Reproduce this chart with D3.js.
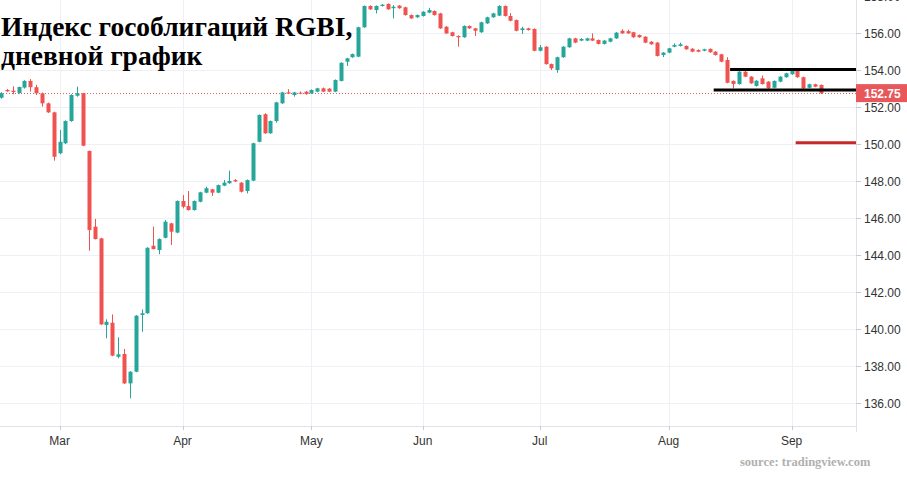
<!DOCTYPE html>
<html><head><meta charset="utf-8">
<script src="https://cdn.jsdelivr.net/npm/d3@7/dist/d3.min.js"></script>
<style>body{margin:0;background:#fff}svg{display:block}</style>
</head><body><svg id="c" width="907" height="477"></svg>
<script>
// OHLC candles (trading days, index 0..140)
const opens  = [152.50,152.92,152.88,152.76,153.05,153.41,153.07,152.74,152.20,151.71,149.50,150.04,151.24,152.61,152.74,149.62,145.53,144.90,140.22,140.34,138.50,138.65,137.06,137.69,140.76,140.85,144.50,144.27,144.93,145.71,145.21,146.92,146.65,146.43,146.88,147.37,147.55,147.37,147.75,147.88,148.05,147.91,147.46,148.02,150.12,151.61,150.58,151.24,152.20,152.79,152.65,152.77,152.83,152.74,152.83,153.01,152.99,152.83,153.41,154.45,154.69,154.72,156.31,157.46,157.24,157.46,157.57,157.34,157.48,157.39,156.97,156.85,156.92,157.10,157.19,157.06,156.34,156.04,155.84,155.77,156.38,156.25,156.04,156.52,156.85,156.94,157.46,156.92,156.70,156.16,156.25,156.22,155.04,155.26,154.32,154.00,154.69,155.23,155.71,155.59,155.59,155.71,155.62,155.41,155.53,155.71,156.12,156.10,156.04,155.89,155.80,155.53,155.48,154.81,154.94,155.26,155.30,155.30,155.15,155.08,155.04,155.14,154.99,154.85,154.54,153.41,153.24,153.91,153.64,153.14,153.55,153.37,153.04,153.37,153.61,153.77,153.96,153.61,153.04,153.23,153.19];
const highs  = [152.80,152.97,153.12,153.10,153.45,153.51,153.20,152.78,152.24,151.75,150.76,151.28,152.69,153.10,152.76,149.65,145.95,144.93,140.52,140.79,139.55,138.92,137.72,140.75,141.06,144.42,145.53,144.90,145.89,145.74,146.95,147.24,147.46,146.95,147.42,147.69,147.58,147.81,148.05,148.56,148.10,147.94,148.08,150.07,151.60,151.66,151.27,152.28,152.82,152.96,152.82,152.84,152.86,152.95,153.04,153.05,153.02,153.49,154.42,154.66,154.89,156.34,157.49,157.50,157.49,157.56,157.60,157.51,157.51,157.42,157.00,157.00,157.18,157.36,157.22,157.09,156.37,156.07,155.87,156.41,156.41,156.28,156.61,156.88,157.09,157.50,157.49,157.08,156.73,156.34,156.28,156.25,155.35,155.29,154.35,154.72,155.29,155.74,155.74,155.72,155.74,155.98,155.65,155.62,155.74,156.05,156.20,156.18,156.07,155.92,155.83,155.56,155.51,154.97,155.20,155.44,155.48,155.33,155.18,155.11,155.15,155.17,155.02,154.88,154.69,153.44,153.94,153.98,153.67,153.45,153.70,153.40,153.44,153.67,153.85,153.99,153.99,153.64,153.26,153.26,153.22];
const lows   = [152.45,152.82,152.69,152.72,153.00,152.83,152.65,152.02,151.68,149.10,149.45,150.00,151.20,152.56,149.88,144.23,144.84,140.22,139.50,138.53,138.42,137.03,136.25,137.66,139.85,140.82,144.30,144.04,144.90,144.54,145.18,146.52,146.40,146.40,146.85,147.34,147.19,147.34,147.72,147.85,147.95,147.38,147.33,147.99,150.09,150.55,150.55,151.15,152.17,152.70,152.56,152.69,152.66,152.71,152.80,152.80,152.80,152.80,153.38,154.22,154.66,154.69,156.28,157.25,157.06,157.43,157.25,156.79,157.31,156.94,156.76,156.82,156.89,157.07,156.94,156.22,155.95,155.81,155.26,155.74,156.22,155.84,156.01,156.49,156.82,156.91,156.89,156.63,156.09,155.95,156.13,155.01,155.01,154.29,154.00,153.85,154.66,155.20,155.45,155.56,155.56,155.56,155.38,155.38,155.50,155.68,155.95,155.95,155.74,155.74,155.45,155.36,154.73,154.70,154.91,155.23,155.27,155.09,154.96,154.96,155.01,154.93,154.78,154.42,153.28,153.01,153.21,153.61,153.25,153.10,153.21,152.98,153.01,153.34,153.58,153.74,153.58,152.98,153.01,153.07,152.70];
const closes = [152.74,152.85,152.81,153.08,153.41,153.07,152.74,152.20,151.71,149.31,150.12,151.24,152.65,152.74,149.91,145.35,144.86,140.25,140.39,138.56,138.63,137.06,137.69,140.72,140.85,144.39,144.32,144.86,145.80,145.26,146.92,146.61,146.43,146.92,147.39,147.61,147.37,147.78,147.91,148.00,147.98,147.42,148.05,150.04,151.57,150.58,151.24,152.25,152.79,152.72,152.79,152.72,152.70,152.92,153.01,152.83,152.83,153.46,154.39,154.63,154.86,156.31,157.46,157.28,157.46,157.53,157.28,157.42,157.34,156.97,156.79,156.97,157.15,157.24,156.97,156.25,155.98,155.84,155.77,156.38,156.25,156.12,156.58,156.85,157.06,157.46,156.92,156.66,156.12,156.25,156.16,155.04,155.23,154.32,154.09,154.69,155.26,155.71,155.48,155.68,155.71,155.59,155.41,155.59,155.71,156.02,155.98,155.98,155.77,155.77,155.48,155.39,154.76,154.94,155.17,155.35,155.39,155.12,154.99,154.99,155.12,154.96,154.81,154.45,153.31,153.24,153.91,153.64,153.28,153.42,153.24,153.01,153.41,153.64,153.82,153.96,153.61,153.01,153.23,153.10,152.75];

const monthLabels = ["Mar","Apr","May","Jun","Jul","Aug","Sep"];
const monthIndex  = [10,31,53,72,92,114,135];
const yTicks = [136,138,140,142,144,146,148,150,152,154,156,158];
const lastPrice = 152.75;
// annotation levels: [value, start candle index, colour]
const levelValues = [154.03, 152.92, 150.07];
const levelStart  = [124.5, 121.7, 135.7];
const levelColors = ["#000000","#000000","#c62828"];

const svg = d3.select("#c");
const W = 907, H = 477;
const plotRight = 856, plotBottom = 426;
const x = d3.scaleLinear().domain([0,146]).range([1, plotRight]);
const y = d3.scaleLinear().domain([136,156]).range([403,33]);

const defs = svg.append("defs");
defs.append("clipPath").attr("id","plot").append("rect").attr("x",0).attr("y",0).attr("width",plotRight).attr("height",plotBottom);

// grid
const grid = svg.append("g");
grid.selectAll("line.h").data(yTicks).join("line")
  .attr("x1",0).attr("x2",plotRight).attr("y1",d=>Math.round(y(d))+0.5).attr("y2",d=>Math.round(y(d))+0.5)
  .attr("stroke","#eef0f5").attr("stroke-width",1);
grid.selectAll("line.v").data(monthIndex).join("line")
  .attr("y1",0).attr("y2",plotBottom).attr("x1",d=>Math.round(x(d))+0.5).attr("x2",d=>Math.round(x(d))+0.5)
  .attr("stroke","#eef0f5").attr("stroke-width",1);

// title
const title = svg.append("g").attr("font-family","'Liberation Serif','Times New Roman',serif").attr("font-weight","bold").attr("font-size",27.5).attr("fill","#000");
title.append("text").attr("x",1).attr("y",36).text("Индекс гособлигаций RGBI,");
title.append("text").attr("x",1).attr("y",65).text("дневной график");

// last price dotted line
svg.append("line").attr("x1",0).attr("x2",plotRight).attr("y1",Math.round(y(lastPrice))+0.5).attr("y2",Math.round(y(lastPrice))+0.5)
  .attr("stroke","#e0605e").attr("stroke-width",1).attr("stroke-dasharray","1,2");

// candles
const candles = d3.range(opens.length).map(i=>({i,o:opens[i],h:highs[i],l:lows[i],c:closes[i]}));
const up = "#26a69a", dn = "#ef5350";
const cg = svg.append("g").attr("clip-path","url(#plot)");
cg.selectAll("line.w").data(candles).join("line")
  .attr("x1",d=>Math.round(x(d.i))+0.5).attr("x2",d=>Math.round(x(d.i))+0.5)
  .attr("y1",d=>y(d.h)).attr("y2",d=>y(d.l))
  .attr("stroke",d=>d.c>=d.o?up:dn).attr("stroke-width",1);
cg.selectAll("rect.b").data(candles).join("rect")
  .attr("x",d=>Math.round(x(d.i))-1.5).attr("width",4)
  .attr("y",d=>y(Math.max(d.o,d.c)))
  .attr("height",d=>Math.max(1,Math.abs(y(d.o)-y(d.c))))
  .attr("fill",d=>d.c>=d.o?up:dn);

// annotation levels
svg.selectAll("line.lv").data(levelValues).join("line")
  .attr("x1",(d,i)=>x(levelStart[i])).attr("x2",plotRight)
  .attr("y1",d=>y(d)).attr("y2",d=>y(d))
  .attr("stroke",(d,i)=>levelColors[i]).attr("stroke-width",3);

// axes lines
svg.append("line").attr("x1",plotRight+0.5).attr("x2",plotRight+0.5).attr("y1",0).attr("y2",H-45).attr("stroke","#dfe2e8");
svg.append("line").attr("x1",0).attr("x2",plotRight).attr("y1",plotBottom+0.5).attr("y2",plotBottom+0.5).attr("stroke","#dfe2e8");

// y ticks & labels
const ya = svg.append("g");
ya.selectAll("line").data(yTicks).join("line")
  .attr("x1",plotRight).attr("x2",plotRight+5).attr("y1",d=>Math.round(y(d))+0.5).attr("y2",d=>Math.round(y(d))+0.5)
  .attr("stroke","#c8cbd3");
ya.selectAll("text").data(yTicks).join("text")
  .attr("x",864).attr("y",d=>y(d)+4.5)
  .attr("font-family","'Liberation Sans',Arial,sans-serif").attr("font-size",12).attr("fill","#333")
  .text(d=>d3.format(".2f")(d));

// x ticks & labels
const xa = svg.append("g");
xa.selectAll("line").data(monthIndex).join("line")
  .attr("x1",d=>Math.round(x(d))+0.5).attr("x2",d=>Math.round(x(d))+0.5).attr("y1",plotBottom).attr("y2",plotBottom+4)
  .attr("stroke","#c8cbd3");
xa.selectAll("text").data(monthIndex).join("text")
  .attr("x",d=>x(d)).attr("y",plotBottom+19).attr("text-anchor","middle")
  .attr("font-family","'Liberation Sans Narrow','Liberation Sans',Arial,sans-serif").attr("font-size",12).attr("fill","#333")
  .text((d,i)=>monthLabels[i]);

// last price label
svg.append("rect").attr("x",plotRight).attr("y",y(lastPrice)-9).attr("width",W-plotRight).attr("height",18).attr("fill","#e8575a");
svg.append("text").attr("x",864).attr("y",y(lastPrice)+4.5)
  .attr("font-family","'Liberation Sans',Arial,sans-serif").attr("font-size",12).attr("font-weight","bold").attr("fill","#fff")
  .text(d3.format(".2f")(lastPrice));

// source
svg.append("text").attr("x",740).attr("y",466)
  .attr("font-family","'Liberation Serif','Times New Roman',serif").attr("font-weight","bold").attr("font-size",12.5).attr("fill","#b0b0b0")
  .text("source: tradingview.com");
</script></body></html>
